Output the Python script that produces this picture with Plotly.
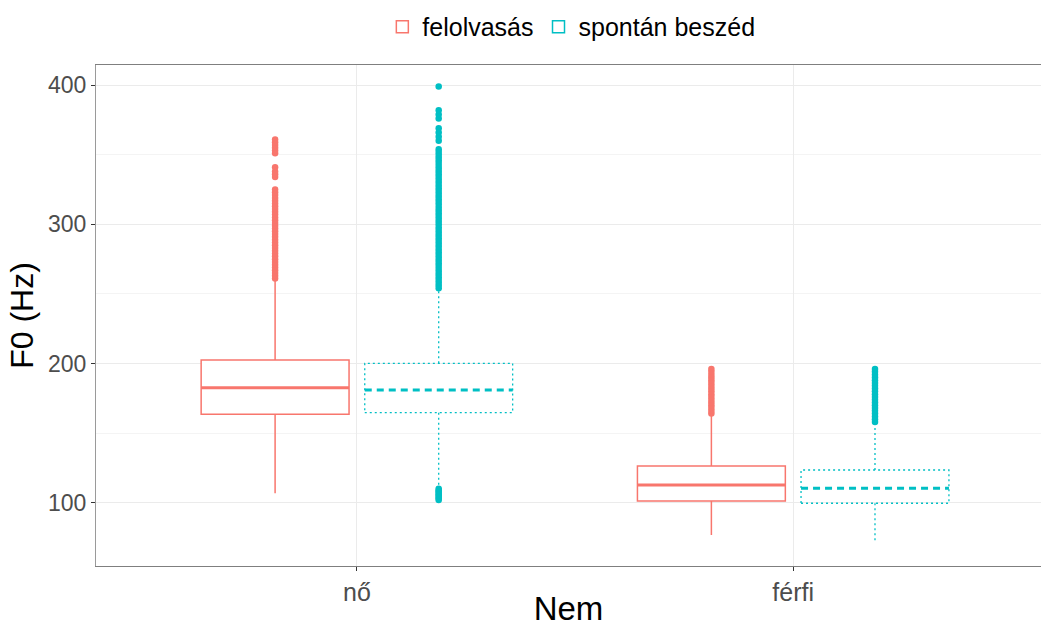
import plotly.graph_objects as go

# Categories and series
groups = ["nő", "férfi"]
series = ["felolvasás", "spontán beszéd"]

# Box statistics per group (Hz)
felolvasas_q1 = [163.5, 101.2]
felolvasas_median = [182.6, 112.7]
felolvasas_q3 = [202.5, 126.4]
felolvasas_lower = [106.8, 76.8]
felolvasas_upper = [260.0, 163.7]

spontan_q1 = [164.7, 99.6]
spontan_median = [181.0, 110.3]
spontan_q3 = [200.1, 123.5]
spontan_lower = [111.5, 72.0]
spontan_upper = [252.8, 157.0]

# Outlying F0 values per group
felolvasas_outliers_no = [261, 263, 265, 267, 269, 271, 273, 275, 277, 279, 281, 283,
                          285, 287, 289, 291, 293, 295, 297, 299, 301, 303, 305, 307,
                          309, 311, 313, 315, 317, 319, 321, 323, 325, 334, 336, 338,
                          341, 351, 353, 355, 357, 359, 361]
felolvasas_outliers_ferfi = [164, 166, 168, 170, 172, 174, 176, 178, 180, 182, 184, 186,
                             188, 190, 192, 194, 196]
spontan_outliers_no = [102, 103, 104, 105, 106, 107, 108, 109, 110,
                       254, 256, 258, 260, 262, 264, 266, 268, 270, 272, 274, 276, 278,
                       280, 282, 284, 286, 288, 290, 292, 294, 296, 298, 300, 302, 304,
                       306, 308, 310, 312, 314, 316, 318, 320, 322, 324, 326, 328, 330,
                       332, 334, 336, 338, 340, 342, 344, 346, 348, 350, 352, 354,
                       360, 363, 366, 369, 376, 379, 382, 399]
spontan_outliers_ferfi = [158, 160, 162, 164, 166, 168, 170, 172, 174, 176, 178, 180,
                          182, 184, 186, 188, 190, 192, 194, 196]

# Axis ticks
y_ticks = [100, 200, 300, 400]

RED = "#F8766D"
TEAL = "#00BFC4"
FONT = "Liberation Sans"

group_pos = list(range(len(groups)))
dodge = 0.1875
box_w = 0.339
half = box_w / 2

fig = go.Figure()

# felolvasás: solid boxes
felo_x = [p - dodge for p in group_pos]
fig.add_trace(go.Box(
    x=felo_x, q1=felolvasas_q1, median=felolvasas_median, q3=felolvasas_q3,
    lowerfence=felolvasas_lower, upperfence=felolvasas_upper,
    width=box_w, whiskerwidth=0, boxpoints=False,
    line=dict(color=RED, width=1.5), fillcolor="white",
    name=series[0], showlegend=True, hoverinfo="skip",
))
# thicker median bars
mx, my = [], []
for c, m in zip(felo_x, felolvasas_median):
    mx += [c - half, c + half, None]
    my += [m, m, None]
fig.add_trace(go.Scatter(x=mx, y=my, mode="lines", line=dict(color=RED, width=3),
                         showlegend=False, hoverinfo="skip"))

# spontán beszéd: dotted boxes, dashed medians
spon_x = [p + dodge for p in group_pos]
bx, by, wx, wy, sx, sy = [], [], [], [], [], []
for c, q1, md, q3, lo, hi in zip(spon_x, spontan_q1, spontan_median, spontan_q3,
                                 spontan_lower, spontan_upper):
    bx += [c - half, c + half, c + half, c - half, c - half, None]
    by += [q1, q1, q3, q3, q1, None]
    wx += [c, c, None, c, c, None]
    wy += [q3, hi, None, q1, lo, None]
    sx += [c - half, c + half, None]
    sy += [md, md, None]
fig.add_trace(go.Scatter(x=wx, y=wy, mode="lines",
                         line=dict(color=TEAL, width=1.3, dash="2px,3px"),
                         showlegend=False, hoverinfo="skip"))
fig.add_trace(go.Scatter(x=bx, y=by, mode="lines",
                         line=dict(color=TEAL, width=1.3, dash="2px,3px"),
                         showlegend=False, hoverinfo="skip"))
fig.add_trace(go.Scatter(x=sx, y=sy, mode="lines",
                         line=dict(color=TEAL, width=3, dash="7px,5px"),
                         showlegend=False, hoverinfo="skip"))
# legend key for spontán beszéd (placed beyond the visible range)
fig.add_trace(go.Box(
    x=[9], q1=[spontan_q1[0]], median=[spontan_median[0]], q3=[spontan_q3[0]],
    lowerfence=[spontan_lower[0]], upperfence=[spontan_upper[0]],
    width=box_w, whiskerwidth=0, boxpoints=False,
    line=dict(color=TEAL, width=1.5), fillcolor="white",
    name=series[1], showlegend=True, hoverinfo="skip",
))

# outliers
for xs, vals, col in [
    (felo_x[0], felolvasas_outliers_no, RED),
    (felo_x[1], felolvasas_outliers_ferfi, RED),
    (spon_x[0], spontan_outliers_no, TEAL),
    (spon_x[1], spontan_outliers_ferfi, TEAL),
]:
    fig.add_trace(go.Scatter(x=[xs] * len(vals), y=vals, mode="markers",
                             marker=dict(color=col, size=6.5, line=dict(width=0)),
                             showlegend=False, hoverinfo="skip"))

fig.update_layout(
    width=1041, height=627,
    margin=dict(l=96, r=0, t=65, b=61),
    paper_bgcolor="white", plot_bgcolor="white",
    font=dict(family=FONT, color="#4D4D4D", size=22),
    legend=dict(orientation="h", x=0.503, xanchor="center", y=1.076, yanchor="middle",
                font=dict(family=FONT, size=25, color="black"),
                itemwidth=30, tracegroupgap=0, bgcolor="rgba(0,0,0,0)"),
)
fig.update_xaxes(
    range=[-0.598, 1.568], tickvals=group_pos, ticktext=groups, automargin=False,
    showgrid=True, gridcolor="#EBEBEB", gridwidth=1, zeroline=False,
    showline=True, linecolor="#7F7F7F", linewidth=1.2, mirror=True,
    ticks="outside", ticklen=4, tickcolor="#333333",
    tickfont=dict(size=25, color="#4D4D4D"),
    title=dict(text="Nem", font=dict(size=33, color="black"), standoff=2),
)
fig.update_yaxes(
    range=[54.5, 414.5], tickvals=y_ticks, automargin=False,
    showgrid=True, gridcolor="#EBEBEB", gridwidth=1, zeroline=False,
    minor=dict(dtick=50, tick0=0, showgrid=True, gridcolor="#F4F4F4", gridwidth=1),
    showline=True, linecolor="#9A9A9A", linewidth=1.2,
    ticks="outside", ticklen=4, tickcolor="#333333",
    tickfont=dict(size=23, color="#4D4D4D"),
    title=dict(text="F0 (Hz)", font=dict(size=32, color="black"), standoff=4),
)

fig.write_html("out.html")
